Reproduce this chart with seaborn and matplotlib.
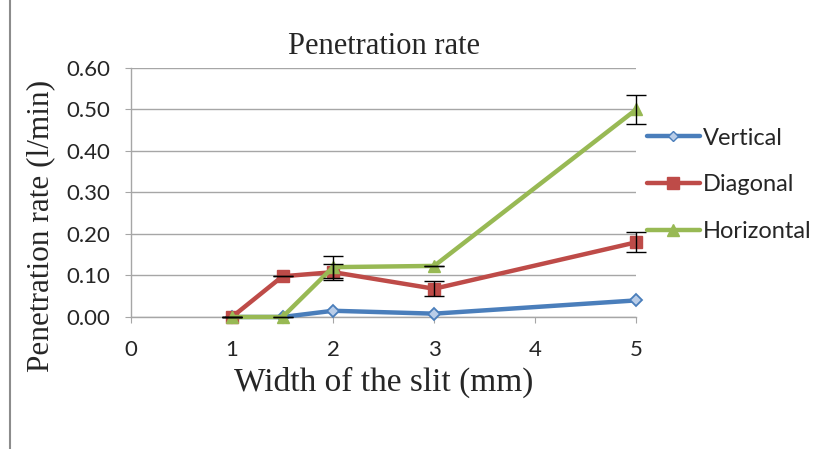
import numpy as np
import pandas as pd
import matplotlib
matplotlib.use("Agg")
import matplotlib.pyplot as plt
import seaborn as sns
from matplotlib.lines import Line2D

slit_width = [1, 1.5, 2, 3, 5]
vertical = [0.0, 0.0, 0.015, 0.008, 0.040]
diagonal = [0.0, 0.098, 0.108, 0.068, 0.180]
horizontal = [0.0, 0.0, 0.120, 0.123, 0.500]
diagonal_err = [0.0, 0.0, 0.020, 0.018, 0.024]
horizontal_err = [0.0, 0.0, 0.027, 0.0, 0.035]
series_names = ['Vertical', 'Diagonal', 'Horizontal']

sns.set_style("white")
plt.rcParams['font.family'] = ['Lato', 'DejaVu Sans']

data_frame = pd.DataFrame({
    'width': slit_width * 3,
    'rate': vertical + diagonal + horizontal,
    'series': np.repeat(series_names, len(slit_width)),
})

colors = {'Vertical': '#4A7EBB', 'Diagonal': '#BE4B48', 'Horizontal': '#98B954'}
markers = {'Vertical': 'D', 'Diagonal': 's', 'Horizontal': '^'}

fig = plt.figure(figsize=(8.18, 4.49), dpi=100)
ax = fig.add_axes([0.160, 0.294, 0.618, 0.555])

sns.lineplot(data=data_frame, x='width', y='rate', hue='series', style='series',
             palette=colors, markers=markers, dashes=False, linewidth=3.2,
             markersize=9, markeredgewidth=1.0, ax=ax, legend=False, zorder=3)

# marker edges in series colour, lighter diamond for vertical, no clipping at x=5
for line in ax.lines:
    line.set_clip_on(False)
    line.set_markeredgecolor(line.get_color())
    if line.get_marker() == 'D':
        line.set_markerfacecolor('#B9CDE8')
        line.set_markersize(6.5)
        line.set_markeredgewidth(1.3)

for values, errs in [(diagonal, diagonal_err), (horizontal, horizontal_err)]:
    eb = ax.errorbar(slit_width, values, yerr=errs, fmt='none', ecolor='black',
                     elinewidth=1, capsize=7, capthick=1, zorder=4)
    for artist in eb.lines[1]:
        artist.set_clip_on(False)
    for artist in eb.lines[2]:
        artist.set_clip_on(False)

ax.set_xlim(0, 5)
ax.set_ylim(0, 0.6)
ax.set_xticks([0, 1, 2, 3, 4, 5])
ax.set_yticks(np.arange(0, 0.61, 0.1))
ax.set_yticklabels([f'{v:.2f}' for v in np.arange(0, 0.61, 0.1)])
ax.grid(axis='y', color='#A6A6A6', linewidth=1)
ax.set_axisbelow(True)
for side in ['top', 'right']:
    ax.spines[side].set_visible(False)
for side in ['left', 'bottom']:
    ax.spines[side].set_color('#A6A6A6')
    ax.spines[side].set_linewidth(1)
ax.tick_params(axis='both', which='both', length=4.5, color='#A6A6A6', labelsize=16,
               direction='out', bottom=True, left=True, labelcolor='#262626')
ax.tick_params(axis='y', pad=10)
ax.tick_params(axis='x', pad=12)

ax.set_title('Penetration rate', fontsize=22, family=['Liberation Serif'], pad=10)
ax.set_xlabel('Width of the slit (mm)', fontsize=24, family=['Liberation Serif'], labelpad=5)
ax.set_ylabel('Penetration rate (l/min)', fontsize=22.5, family=['Liberation Serif'])
ax.yaxis.set_label_coords(-0.150, 0.365)

handles = [Line2D([0], [0], color=colors[n], marker=markers[n], linewidth=3.2,
                  markersize=8 if n != 'Vertical' else 5,
                  markerfacecolor=colors[n] if n != 'Vertical' else '#B9CDE8')
           for n in series_names]
fig.legend(handles, series_names, loc='center left', bbox_to_anchor=(0.779, 0.588),
           frameon=False, fontsize=17, handlelength=2.25, labelspacing=1.1,
           handletextpad=0.15, borderpad=0.4, borderaxespad=0)

fig.add_artist(Line2D([10 / 818, 10 / 818], [0, 1], transform=fig.transFigure,
                      color='#8C8C8C', linewidth=1.5))

fig.savefig('out.png', dpi=100)
